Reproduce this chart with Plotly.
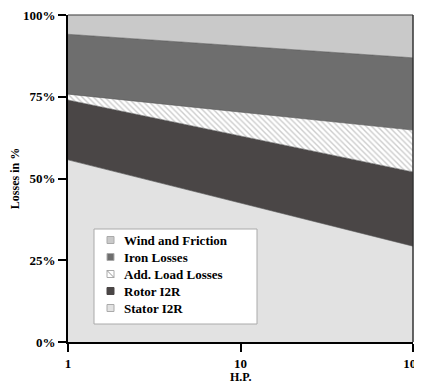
import plotly.graph_objects as go

hp = [1, 10, 100]
stator = [55.7, 42.5, 29.3]
rotor = [18.3, 20.5, 22.7]
add_load = [1.8, 7.3, 12.8]
iron = [18.3, 20.2, 22.1]
wind = [5.9, 9.5, 13.1]

names = ["Stator I2R", "Rotor I2R", "Add. Load Losses", "Iron Losses", "Wind and Friction"]
values = [stator, rotor, add_load, iron, wind]
colors = ["#e2e2e2", "#4a4646", "#ffffff", "#6e6e6e", "#c9c9c9"]
patterns = [None, None, "\\", None, None]
y_ticks = [0, 25, 50, 75, 100]
y_ticktext = ["0%", "25%", "50%", "75%", "100%"]
x_ticks = [1, 10, 100]

fig = go.Figure()
for name, vals, col, pat in zip(names, values, colors, patterns):
    kw = {}
    if pat:
        kw["fillpattern"] = dict(shape=pat, fgcolor="#9a9a9a", bgcolor="#ffffff", size=4, solidity=0.35)
    fig.add_trace(go.Scatter(
        x=hp, y=vals, name=name, stackgroup="one", mode="lines",
        line=dict(width=0.6, color="#555555"), fillcolor=col,
        showlegend=False, **kw))

# page body has an 8px margin; design in screen pixels
OFF = 8
L, R, T, B = 68, 413, 15, 342  # plot area in screen px
W, H = 422 - OFF, 383 - OFF


def px(x):
    return (x - L) / (R - L)


def py(y):
    return (B - y) / (B - T)


font_fam = "Liberation Serif"
shapes = []
annotations = []
# legend box (drawn manually for tight item spacing)
shapes.append(dict(type="rect", xref="paper", yref="paper", x0=px(94), x1=px(257), y0=py(324), y1=py(229),
                   fillcolor="white", line=dict(color="#aaaaaa", width=1), layer="above"))
legend_order = list(range(len(names)))[::-1]
for i, idx in enumerate(legend_order):
    yc = 240 + i * 17
    col = colors[idx]
    border = "#4a4646" if col == "#4a4646" else "#aaaaaa"
    shapes.append(dict(type="rect", xref="paper", yref="paper", x0=px(107), x1=px(114), y0=py(yc + 3.5), y1=py(yc - 3.5),
                       fillcolor=col, line=dict(color=border, width=1), layer="above"))
    if patterns[idx]:
        shapes.append(dict(type="line", xref="paper", yref="paper", x0=px(107), x1=px(114), y0=py(yc - 3.5), y1=py(yc + 3.5),
                           line=dict(color="#999999", width=1), layer="above"))
    annotations.append(dict(xref="paper", yref="paper", x=px(122), y=py(yc), xanchor="left", yanchor="middle",
                            text="<b>" + names[idx] + "</b>", showarrow=False,
                            font=dict(family=font_fam, size=13, color="black")))

annotations.append(dict(xref="paper", yref="paper", x=0.5, y=py(377), xanchor="center", yanchor="middle",
                        text="<b>H.P.</b>", showarrow=False, font=dict(family=font_fam, size=12, color="black")))

# top/right frame lines
shapes.append(dict(type="line", xref="paper", yref="paper", x0=0, x1=1, y0=1, y1=1, line=dict(color="#777777", width=1.5)))
shapes.append(dict(type="line", xref="paper", yref="paper", x0=1, x1=1, y0=0, y1=1, line=dict(color="#333333", width=1.5)))

fig.update_layout(
    width=W, height=H,
    margin=dict(l=L - OFF, r=W + OFF - R, t=T - OFF, b=H + OFF - B, autoexpand=False),
    paper_bgcolor="white", plot_bgcolor="white",
    font=dict(family=font_fam, color="black"),
    showlegend=False,
    shapes=shapes, annotations=annotations,
    xaxis=dict(type="log", range=[0, 2], tickvals=x_ticks, ticktext=["<b>%d</b>" % v for v in x_ticks],
               ticks="outside", ticklen=8, tickwidth=2, tickcolor="black",
               showline=True, linecolor="black", linewidth=2,
               showgrid=False, zeroline=False, tickfont=dict(size=13),
               ticklabeloverflow="allow", ticklabelstandoff=0, automargin=False),
    yaxis=dict(range=[0, 100], tickvals=y_ticks, ticktext=["<b>%s</b>" % t for t in y_ticktext],
               ticks="outside", ticklen=8, tickwidth=2, tickcolor="black",
               showline=True, linecolor="black", linewidth=2,
               showgrid=False, zeroline=False, tickfont=dict(size=13), automargin=False,
               ticklabeloverflow="allow",
               title=dict(text="<b>Losses in %</b>", font=dict(size=12), standoff=6)),
)

fig.write_html("out.html")
